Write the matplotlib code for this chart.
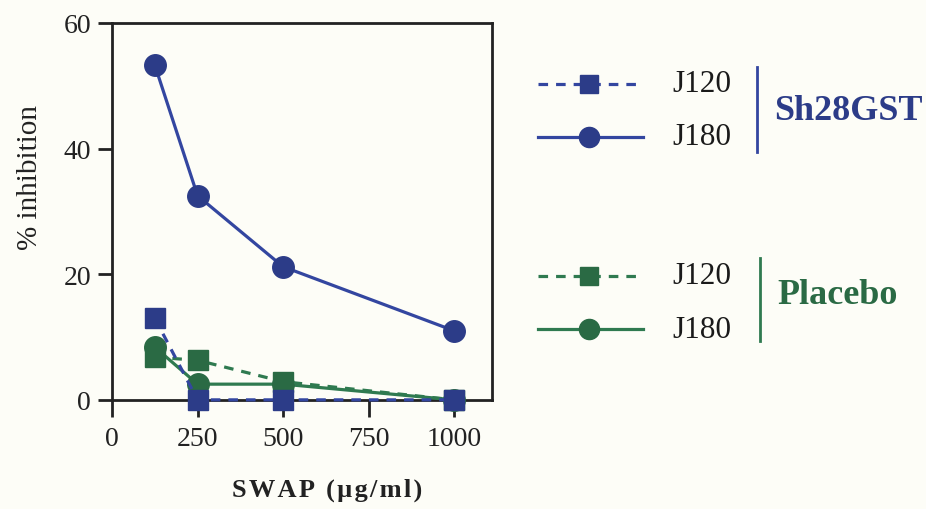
import matplotlib
matplotlib.use("Agg")
import matplotlib.pyplot as plt
from matplotlib.lines import Line2D

# Dose of SWAP (µg/ml)
doses = [125, 250, 500, 1000]

# % inhibition per serum group
sh28_j120 = [13.0, 0.0, 0.0, 0.0]
sh28_j180 = [53.3, 32.5, 21.2, 11.0]
placebo_j120 = [6.8, 6.3, 2.9, 0.0]
placebo_j180 = [8.4, 2.5, 2.5, 0.0]

x_ticks = [0, 250, 500, 750, 1000]
y_ticks = [0, 20, 40, 60]

BLUE = "#2c3c88"
BLUE_LINE = "#3346a0"
GREEN = "#2a6a44"
GREEN_LINE = "#2f7a50"
BG = "#fdfdf7"
SERIF = ["Liberation Serif", "DejaVu Serif"]

plt.rcParams["font.family"] = SERIF

fig = plt.figure(figsize=(9.26, 5.10), dpi=100, facecolor=BG)
ax = fig.add_axes([0.121, 0.214, 0.410, 0.739])
ax.set_facecolor(BG)

lw = 2.3
DASH = (0, (3, 2.5))
series = [
    (placebo_j180, GREEN_LINE, GREEN, "-", "o", 15.5),
    (placebo_j120, GREEN_LINE, GREEN, DASH, "s", 14),
    (sh28_j180, BLUE_LINE, BLUE, "-", "o", 15.5),
    (sh28_j120, BLUE_LINE, BLUE, DASH, "s", 14),
]
for vals, lc, mc, ls, mk, ms in series:
    ax.plot(doses, vals, color=lc, linestyle=ls, linewidth=lw,
            marker=mk, markersize=ms, markerfacecolor=mc,
            markeredgecolor=mc, clip_on=False, zorder=3)

ax.set_xlim(0, 1110)
ax.set_ylim(0, 60)
ax.set_xticks(x_ticks)
ax.set_yticks(y_ticks)
ax.tick_params(axis="both", direction="out", length=10, width=2,
               colors="#222222", labelsize=20, pad=5)
ax.tick_params(axis="x", length=12, pad=7)
for sp in ax.spines.values():
    sp.set_linewidth(2)
    sp.set_color("#222222")

fig.text(30 / 926, 1 - 177 / 510, "% inhibition", rotation=90,
         ha="center", va="center", fontsize=21, color="#222222")
fig.text(327 / 926, 1 - 490 / 510, "\u200a".join("SWAP (µg/ml)"),
         ha="center", va="center", fontsize=19, fontweight="bold",
         color="#222222")

# Grouped legend drawn in figure coordinates
rows = [
    (85, BLUE_LINE, BLUE, DASH, "s", 13, "J120"),
    (138, BLUE_LINE, BLUE, "-", "o", 14.5, "J180"),
    (277, GREEN_LINE, GREEN, DASH, "s", 13, "J120"),
    (330, GREEN_LINE, GREEN, "-", "o", 14.5, "J180"),
]
for ypx, lc, mc, ls, mk, ms, lab in rows:
    yf = 1 - ypx / 510
    fig.add_artist(Line2D([538 / 926, 643 / 926], [yf, yf], color=lc,
                          linestyle=ls, linewidth=lw, transform=fig.transFigure))
    fig.add_artist(Line2D([589 / 926], [yf], marker=mk, markersize=ms,
                          color=mc, transform=fig.transFigure))
    fig.text(672 / 926, yf, lab, ha="left", va="center", fontsize=22.5,
             color="#1a1a1a")

fig.add_artist(Line2D([757 / 926, 757 / 926], [1 - 68 / 510, 1 - 153 / 510],
                      color=BLUE_LINE, linewidth=2, transform=fig.transFigure))
fig.add_artist(Line2D([760 / 926, 760 / 926], [1 - 259 / 510, 1 - 342 / 510],
                      color=GREEN_LINE, linewidth=2, transform=fig.transFigure))
fig.text(774 / 926, 1 - 112 / 510, "Sh28GST", ha="left", va="center",
         fontsize=26, fontweight="bold", color=BLUE)
fig.text(777 / 926, 1 - 295 / 510, "Placebo", ha="left", va="center",
         fontsize=26, fontweight="bold", color=GREEN)

fig.savefig("out.png", dpi=100, facecolor=BG)
